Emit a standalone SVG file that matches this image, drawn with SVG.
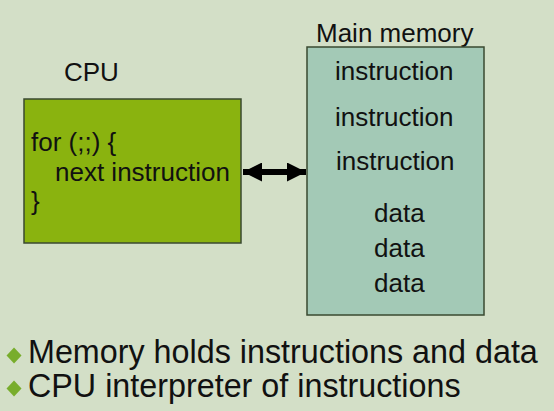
<svg xmlns="http://www.w3.org/2000/svg" width="554" height="411" viewBox="0 0 554 411">
<style>
text{font-family:"Liberation Sans",Arial,sans-serif;fill:#111;}
.t{font-size:26px;}
.b{font-size:32.3px;}
.box{stroke:#3a4a30;stroke-width:1.5;}
.bul{fill:#78ad2c;}
</style>
<defs>
<marker id="ah" viewBox="0 0 10 10" refX="10" refY="5" markerWidth="20" markerHeight="19" markerUnits="userSpaceOnUse" orient="auto-start-reverse">
<path d="M0,0 L10,5 L0,10 z" fill="#000"/>
</marker>
</defs>
<rect width="554" height="411" fill="#d3dfc7"/>
<g id="cpu">
<text class="t" x="64" y="81">CPU</text>
<rect class="box" x="24" y="99" width="217" height="144" fill="#8ab30f"/>
<text class="t" x="31" y="151">for (;;) {</text>
<text class="t" x="55" y="181">next instruction</text>
<text class="t" x="31" y="210">}</text>
</g>
<g id="memory">
<text class="t" x="316" y="42">Main memory</text>
<rect class="box" x="307" y="47" width="177" height="268" fill="#a3c9b6"/>
<text class="t" x="335" y="80">instruction</text>
<text class="t" x="335" y="126">instruction</text>
<text class="t" x="336" y="170">instruction</text>
<text class="t" x="374" y="222">data</text>
<text class="t" x="374" y="257">data</text>
<text class="t" x="374" y="292">data</text>
</g>
<g id="connectors">
<line x1="243" y1="172" x2="306" y2="172" stroke="#000" stroke-width="6" marker-start="url(#ah)" marker-end="url(#ah)"/>
</g>
<g id="bullets">
<path class="bul" d="M14,347.5 L21.5,355.5 L14,363.5 L6.5,355.5 z"/>
<text class="b" x="28" y="363">Memory holds instructions and data</text>
<path class="bul" d="M14,380.5 L21.5,388.5 L14,396.5 L6.5,388.5 z"/>
<text class="b" x="28" y="397">CPU interpreter of instructions</text>
</g>
</svg>
